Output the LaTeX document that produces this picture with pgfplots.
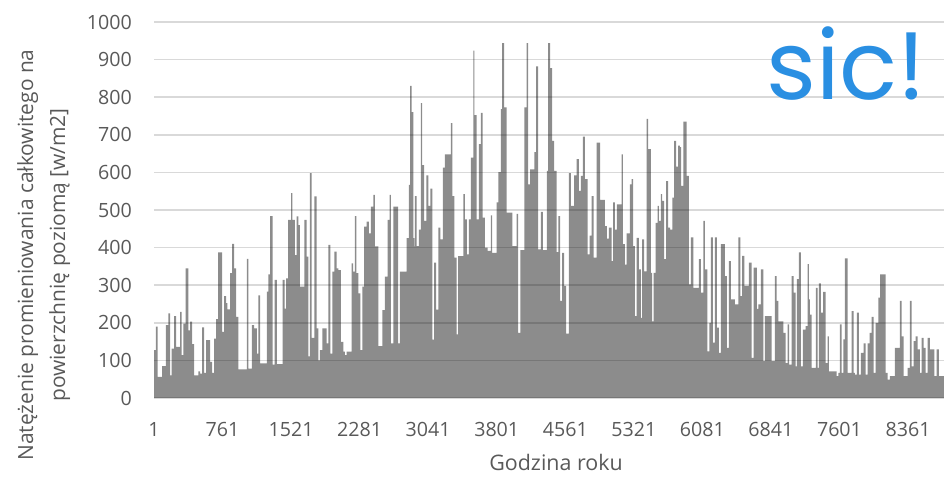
\documentclass[border=0pt]{standalone}
\usepackage{pgfplots}
\usepackage{pgfplotstable}
\pgfplotsset{compat=1.18}
\usepackage{fontspec}
\setmainfont{Open Sans}
\newfontfamily\sicfont{Poppins}
\definecolor{txt}{HTML}{595959}
\definecolor{gridc}{HTML}{D9D9D9}
\definecolor{sicblue}{HTML}{2A8FE2}
\pgfplotstableread{
h v
1 127
23 190
42 56
90 85
134 194
160 225
179 60
197 131
223 218
245 136
290 229
308 114
327 198
352 345
382 180
401 203
423 143
445 60
493 71
512 65
534 188
556 67
578 154
623 96
645 67
667 158
689 210
711 387
756 176
778 271
800 252
815 236
845 332
867 410
889 345
911 216
937 76
1030 370
1048 78
1085 194
1111 185
1141 118
1159 273
1178 92
1252 283
1270 329
1289 484
1315 89
1337 314
1363 90
1426 314
1448 238
1466 318
1488 474
1520 545
1534 474
1564 380
1582 483
1601 460
1619 296
1667 474
1693 376
1712 111
1730 598
1749 160
1778 536
1804 185
1823 100
1841 127
1867 185
1915 145
1933 407
1956 118
1978 336
2000 389
2026 345
2044 340
2074 149
2100 123
2118 114
2137 123
2192 358
2210 336
2229 484
2244 332
2266 278
2288 127
2310 296
2332 456
2358 469
2384 438
2406 509
2432 540
2451 403
2488 138
2532 234
2562 323
2591 474
2613 540
2628 145
2654 509
2709 145
2728 336
2802 425
2828 567
2842 830
2857 760
2876 425
2887 403
2894 537
2912 404
2938 448
2961 784
2975 619
2997 471
3020 592
3042 511
3064 557
3086 155
3108 360
3130 235
3153 453
3175 422
3204 613
3227 648
3293 731
3308 537
3330 373
3356 169
3374 377
3430 542
3448 475
3470 382
3493 475
3515 639
3541 924
3552 752
3578 475
3603 675
3626 758
3644 480
3670 400
3700 391
3736 486
3751 386
3799 520
3818 601
3847 768
3862 944
3884 773
3910 493
3973 404
4021 490
4039 173
4062 393
4106 773
4132 944
4150 568
4172 608
4217 654
4239 882
4261 395
4291 495
4313 393
4357 604
4372 944
4394 877
4416 684
4438 604
4464 388
4483 484
4505 258
4527 386
4549 298
4571 171
4601 598
4623 511
4660 592
4686 635
4712 551
4734 591
4756 695
4778 582
4808 382
4830 432
4852 537
4874 373
4908 679
4948 527
5000 457
5022 424
5044 453
5074 364
5092 520
5111 448
5133 515
5185 648
5200 409
5222 355
5240 438
5277 568
5296 582
5314 404
5333 218
5351 426
5377 342
5399 213
5414 422
5436 337
5462 742
5480 662
5510 333
5525 204
5540 333
5562 466
5584 511
5599 471
5621 542
5636 524
5658 369
5680 577
5702 453
5724 448
5747 533
5769 684
5791 615
5813 671
5832 667
5844 564
5869 735
5906 591
5932 302
5954 427
5980 293
6043 369
6065 280
6091 471
6110 342
6135 124
6158 200
6176 427
6198 147
6220 427
6243 187
6265 120
6287 409
6331 324
6353 133
6376 364
6398 262
6442 249
6479 427
6501 271
6523 378
6546 298
6597 360
6627 107
6649 347
6686 237
6701 249
6730 342
6756 98
6775 218
6849 98
6886 324
6904 258
6923 204
6978 173
7004 93
7026 196
7044 89
7070 324
7092 280
7115 84
7129 316
7152 387
7174 84
7196 182
7225 191
7248 356
7262 262
7273 222
7292 80
7340 293
7358 80
7373 305
7395 227
7421 282
7447 93
7469 164
7484 71
7569 58
7588 67
7606 196
7624 67
7643 156
7661 371
7691 67
7735 231
7757 67
7772 62
7794 227
7817 62
7839 120
7868 145
7890 62
7913 145
7935 173
7957 216
7979 67
8001 200
8031 267
8053 329
8112 67
8134 49
8160 58
8216 133
8271 258
8290 164
8312 58
8356 80
8382 258
8400 84
8423 151
8445 164
8467 129
8493 67
8511 160
8533 133
8556 67
8578 160
8604 129
8652 58
8678 129
8703 58
8760 58
}\irr
\begin{document}
\begin{tikzpicture}[x=1bp,y=1bp]
\useasboundingbox (0,0) rectangle (944,478);
\begin{axis}[
  at={(154bp,80bp)}, anchor=south west,
  scale only axis, width=790bp, height=376bp,
  xmin=1, xmax=8760, ymin=0, ymax=1000,
  axis line style={draw=none},
  tick style={draw=none},
  ytick={0,100,...,1000},
  xtick={1,761,1521,2281,3041,3801,4561,5321,6081,6841,7601,8361},
  ymajorgrids, major grid style={gridc, line width=1.5bp},
  /pgf/number format/assume math mode=true,
  /pgf/number format/set thousands separator={},
  ticklabel style={font=\fontsize{19.7}{22}\selectfont, text=txt},
  xticklabel style={anchor=base, inner sep=0pt, yshift=-39bp},
  yticklabel style={anchor=east, inner sep=0pt, xshift=-22bp},
]
\addplot[const plot mark left, draw=none, fill=black, fill opacity=0.45] table[x=h, y=v] {\irr} \closedcycle;
\end{axis}
\node[rotate=90, anchor=base, inner sep=0pt, text=txt, font=\fontsize{21}{24}\selectfont] at (33,223) {Natężenie promieniowania całkowitego na};
\node[rotate=90, anchor=base, inner sep=0pt, text=txt, font=\fontsize{21}{24}\selectfont] at (65,223) {powierzchnię poziomą [w/m2]};
\node[anchor=base, inner sep=0pt, text=txt, font=\fontsize{21.5}{24}\selectfont] at (556,7) {Godzina roku};
\node[anchor=base west, inner sep=0pt, text=sicblue, font=\sicfont\fontsize{96}{100}\selectfont] at (766,378) {sic!};
\end{tikzpicture}
\end{document}
